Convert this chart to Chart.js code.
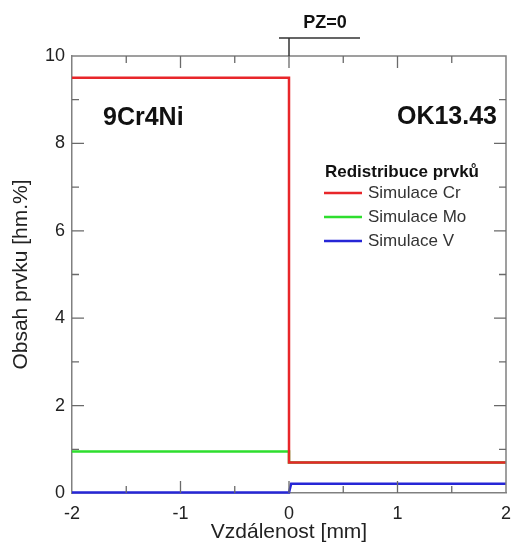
<!DOCTYPE html>
<html>
<head>
<meta charset="utf-8">
<script src="https://cdn.jsdelivr.net/npm/chart.js@4/dist/chart.umd.min.js"></script>
<style>
  html, body { margin: 0; padding: 0; background: #fff; }
</style>
</head>
<body>
<canvas id="chart" width="511" height="546"></canvas>
<script>
// series: step profiles across the fusion boundary (x = 0)
const seriesNames = ['Simulace Cr', 'Simulace Mo', 'Simulace V'];
const seriesColors = ['#e8262a', '#2ede2e', '#2626d6'];

const crX = [-2, 0, 0, 2];
const crY = [9.5, 9.5, 0.7, 0.7];
const moX = [-2, 0, 0, 2];
const moY = [0.95, 0.95, 0.7, 0.7];
const vX = [-2, 0, 0.02, 2];
const vY = [0.01, 0.01, 0.21, 0.21];

const xMajor = [-2, -1, 0, 1, 2];
const xMinor = [-1.5, -0.5, 0.5, 1.5];
const yMajor = [0, 2, 4, 6, 8, 10];
const yMinor = [1, 3, 5, 7, 9];

const FONT = "'Liberation Sans', Arial, sans-serif";

function toPoints(xs, ys) {
    return xs.map((x, i) => ({ x: x, y: ys[i] }));
}

const frameAndNotes = {
    id: 'frameAndNotes',
    afterDraw(chart) {
        const ctx = chart.ctx;
        const a = chart.chartArea;
        const xs = chart.scales.x;
        const ys = chart.scales.y;

        ctx.save();
        // top + right frame
        ctx.strokeStyle = '#808080';
        ctx.lineWidth = 1.5;
        ctx.beginPath();
        ctx.moveTo(a.left, a.top);
        ctx.lineTo(a.right, a.top);
        ctx.lineTo(a.right, a.bottom);
        ctx.stroke();

        // inward ticks on all four sides
        const tick = (vals, len) => {
            vals.forEach(v => {
                const px = xs.getPixelForValue(v);
                ctx.beginPath();
                ctx.moveTo(px, a.bottom); ctx.lineTo(px, a.bottom - len);
                ctx.moveTo(px, a.top); ctx.lineTo(px, a.top + len);
                ctx.stroke();
            });
        };
        const tickY = (vals, len) => {
            vals.forEach(v => {
                const py = ys.getPixelForValue(v);
                ctx.beginPath();
                ctx.moveTo(a.left, py); ctx.lineTo(a.left + len, py);
                ctx.moveTo(a.right, py); ctx.lineTo(a.right - len, py);
                ctx.stroke();
            });
        };
        ctx.strokeStyle = '#6a6a6a';
        ctx.lineWidth = 1.3;
        tick(xMajor.slice(1, -1), 12);
        tick(xMinor, 7);
        tickY(yMajor.slice(1, -1), 12);
        tickY(yMinor, 7);

        // PZ=0 marker
        const x0 = xs.getPixelForValue(0);
        ctx.strokeStyle = '#333';
        ctx.lineWidth = 1.5;
        ctx.beginPath();
        ctx.moveTo(x0, a.top);
        ctx.lineTo(x0, 38);
        ctx.moveTo(279, 38);
        ctx.lineTo(360, 38);
        ctx.stroke();

        ctx.fillStyle = '#111';
        ctx.textBaseline = 'middle';
        ctx.textAlign = 'center';
        ctx.font = 'bold 18px ' + FONT;
        ctx.fillText('PZ=0', 325, 23);

        // material labels
        ctx.font = 'bold 25px ' + FONT;
        ctx.textAlign = 'left';
        ctx.fillText('9Cr4Ni', 103, 118);
        ctx.textAlign = 'right';
        ctx.fillText('OK13.43', 497, 117);

        // legend
        ctx.textAlign = 'left';
        ctx.font = 'bold 17px ' + FONT;
        ctx.fillText('Redistribuce prvků', 325, 172);
        ctx.font = '17px ' + FONT;
        const rows = [193, 217, 241];
        chart.data.datasets.forEach((ds, i) => {
            ctx.strokeStyle = ds.borderColor;
            ctx.lineWidth = 2.5;
            ctx.beginPath();
            ctx.moveTo(324, rows[i]);
            ctx.lineTo(362, rows[i]);
            ctx.stroke();
            ctx.fillStyle = '#333';
            ctx.fillText(ds.label, 368, rows[i]);
        });
        ctx.restore();
    }
};

const allX = [crX, moX, vX];
const allY = [crY, moY, vY];

new Chart(document.getElementById('chart'), {
    type: 'scatter',
    data: {
        datasets: seriesNames.map((name, i) => ({
            label: name,
            data: toPoints(allX[i], allY[i]),
            showLine: true,
            borderColor: seriesColors[i],
            backgroundColor: seriesColors[i],
            borderWidth: 2.5,
            pointRadius: 0,
            tension: 0,
            clip: false
        }))
    },
    options: {
        responsive: false,
        animation: false,
        layout: { padding: { top: 56, right: 5, left: 0, bottom: 0 } },
        plugins: {
            legend: { display: false },
            tooltip: { enabled: false }
        },
        scales: {
            x: {
                type: 'linear',
                min: -2,
                max: 2,
                afterFit: s => { s.height = 53; s.paddingLeft = 0; s.paddingRight = 0; },
                afterBuildTicks: s => { s.ticks = xMajor.map(v => ({ value: v })); },
                grid: { display: false, drawTicks: false },
                border: { display: true, color: '#808080', width: 1.5 },
                ticks: { color: '#222', padding: 10, font: { family: FONT, size: 18 } },
                title: {
                    display: true,
                    text: 'Vzdálenost [mm]',
                    color: '#222',
                    font: { family: FONT, size: 21 },
                    padding: { top: 0, bottom: 1 }
                }
            },
            y: {
                min: 0,
                max: 10,
                afterFit: s => { s.width = 72; s.paddingTop = 0; s.paddingBottom = 0; },
                afterBuildTicks: s => { s.ticks = yMajor.map(v => ({ value: v })); },
                grid: { display: false, drawTicks: false },
                border: { display: true, color: '#808080', width: 1.5 },
                ticks: { color: '#222', padding: 7, font: { family: FONT, size: 18 } },
                title: {
                    display: true,
                    text: 'Obsah prvku [hm.%]',
                    color: '#222',
                    font: { family: FONT, size: 21 },
                    padding: { top: 9, bottom: 0 }
                }
            }
        }
    },
    plugins: [frameAndNotes]
});
</script>
</body>
</html>
